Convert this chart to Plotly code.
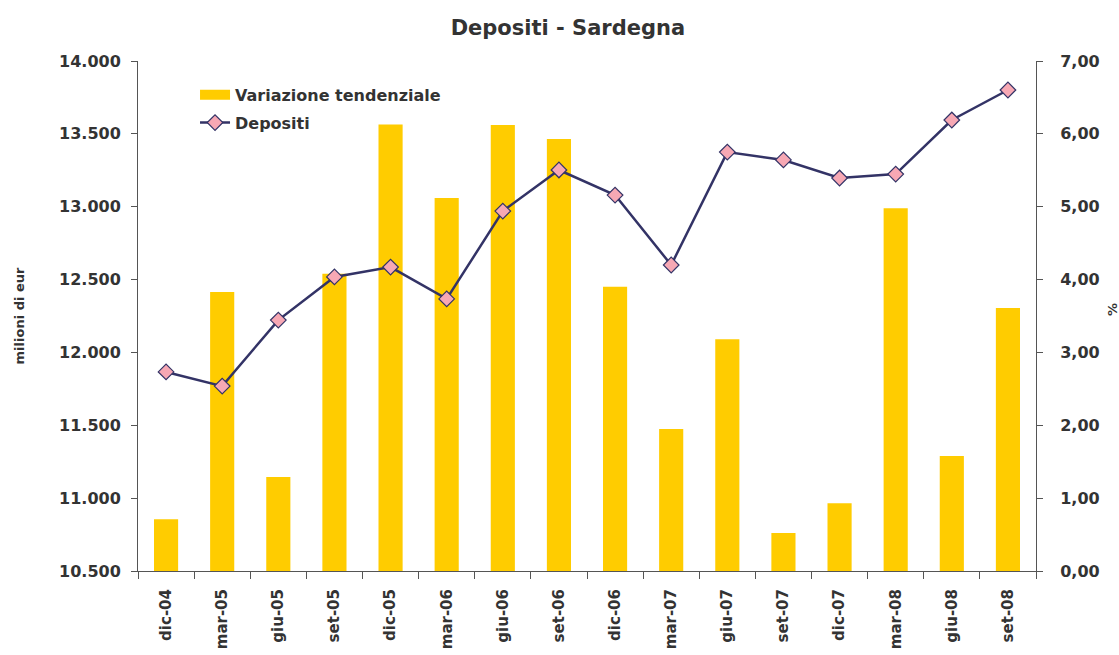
import plotly.graph_objects as go

categories = ["dic-04", "mar-05", "giu-05", "set-05", "dic-05", "mar-06", "giu-06", "set-06",
              "dic-06", "mar-07", "giu-07", "set-07", "dic-07", "mar-08", "giu-08", "set-08"]
variazione = [0.71, 3.83, 1.29, 4.08, 6.13, 5.12, 6.12, 5.93,
              3.90, 1.95, 3.18, 0.52, 0.93, 4.98, 1.58, 3.61]
depositi = [11866, 11769, 12222, 12518, 12586, 12367, 12970, 13252,
            13080, 12600, 13375, 13321, 13197, 13224, 13595, 13801]

left_ticks = [10500, 11000, 11500, 12000, 12500, 13000, 13500, 14000]
right_ticks = [0, 1, 2, 3, 4, 5, 6, 7]

FONT = "DejaVu Sans, sans-serif"
TXT = "#333333"
AX = "#555555"
BAR = "#FFCC00"
LINE = "#333366"
PINK = "#F7A8B4"

W, H = 1119, 655
L, R, T, B = 138, 83, 61, 84

fig = go.Figure()
fig.add_trace(go.Bar(
    x=categories, y=variazione, name="Variazione tendenziale", showlegend=False,
    marker=dict(color=BAR, line=dict(width=0)), yaxis="y"))
# legend entry for the bars (wide rectangle like the original legend)
fig.add_trace(go.Scatter(
    x=[None], y=[None], name="<b>Variazione tendenziale</b>", mode="lines",
    line=dict(color=BAR, width=12), yaxis="y", legendgroup="a", showlegend=True))
fig.add_trace(go.Scatter(
    x=categories, y=depositi, name="<b>Depositi</b>", yaxis="y2", mode="lines+markers",
    legendgroup="b",
    line=dict(color=LINE, width=2.5),
    marker=dict(symbol="diamond", size=12, color=PINK, line=dict(color=LINE, width=1.2))))

tickfont = dict(size=16, family=FONT, color=TXT)

fig.update_layout(
    width=W, height=H,
    margin=dict(l=L, r=R, t=T, b=B, autoexpand=False),
    paper_bgcolor="white", plot_bgcolor="white",
    separators=",.",
    font=dict(family=FONT, color=TXT, size=16),
    title=dict(text="<b>Depositi - Sardegna</b>", x=0.5075, xanchor="center",
               y=(H - 28) / H, yanchor="middle",
               font=dict(size=21, family=FONT, color=TXT)),
    bargap=0.57,
    showlegend=True,
    legend=dict(x=0.0635, y=0.967, xanchor="left", yanchor="top", bgcolor="rgba(0,0,0,0)",
                font=dict(size=16, family=FONT, color=TXT), tracegroupgap=4),
    xaxis=dict(type="category", range=[-0.5, 15.5], automargin=False,
               showline=True, linecolor=AX, linewidth=1,
               ticks="outside", tickson="boundaries", ticklen=7, tickcolor=AX,
               tickangle=-90, tickfont=dict(size=15, family=FONT, color=TXT), showgrid=False,
               tickvals=categories, ticktext=[f"<b>{c}</b>" for c in categories],
               ticklabelstandoff=11),
    yaxis=dict(side="right", range=[0, 7], tickvals=right_ticks, automargin=False,
               ticktext=["<b>" + f"{v:.2f}".replace(".", ",") + "</b>" for v in right_ticks],
               showline=True, linecolor=AX, linewidth=1, ticks="outside", ticklen=6,
               tickcolor=AX, showgrid=False, zeroline=False, tickfont=tickfont,
               ticklabelstandoff=14),
    yaxis2=dict(side="left", overlaying="y", range=[10500, 14000], tickvals=left_ticks,
                ticktext=["<b>" + f"{v:,d}".replace(",", ".") + "</b>" for v in left_ticks],
                automargin=False,
                showline=True, linecolor=AX, linewidth=1,
                ticks="outside", ticklen=6, tickcolor=AX, showgrid=False, zeroline=False,
                tickfont=tickfont, ticklabelstandoff=7,
                title=dict(text="<b>milioni di eur</b>", font=dict(size=13, family=FONT, color=TXT),
                           standoff=31)),
    annotations=[dict(text="<b>%</b>", xref="paper", yref="paper",
                      x=(1112 - L) / (W - L - R), y=(H - B - 310) / (H - T - B),
                      xanchor="center", yanchor="middle", textangle=-90, showarrow=False,
                      font=dict(size=13, family=FONT, color=TXT))],
)

fig.write_html("out.html", config={"displayModeBar": False},
               post_script="document.body.style.margin='0';document.body.style.overflow='hidden';")
